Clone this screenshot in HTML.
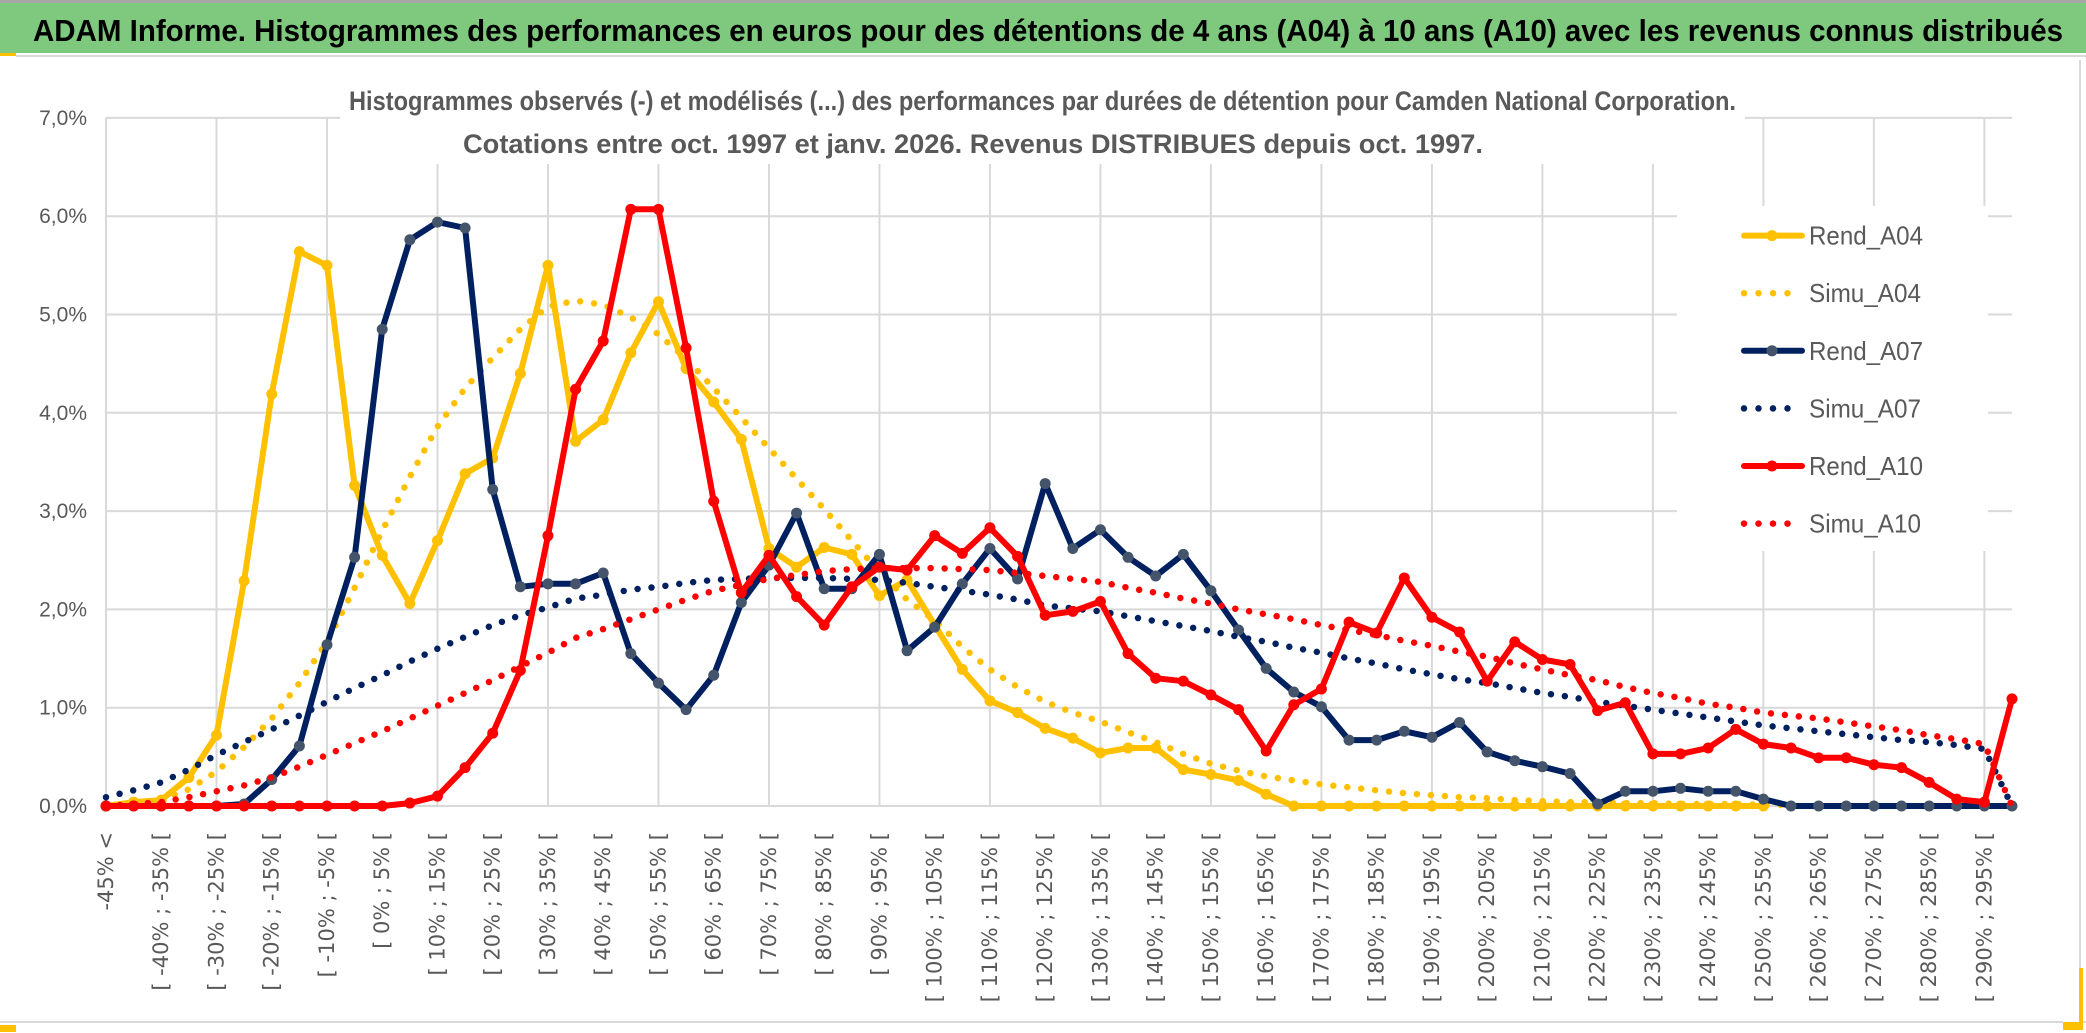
<!DOCTYPE html>
<html><head><meta charset="utf-8"><style>
html,body{margin:0;padding:0;background:#fff;}
svg{display:block;}
text{font-family:"Liberation Sans","DejaVu Sans",sans-serif;}
</style></head><body>
<svg id="chart" width="2086" height="1033" viewBox="0 0 2086 1033" xmlns="http://www.w3.org/2000/svg">
<rect x="0" y="0" width="2086" height="1033" fill="#fff"/>
<rect x="0" y="0" width="2086" height="3" fill="#a6a6a6"/>
<rect x="0" y="3" width="2086" height="50" fill="#7fc97f"/>
<rect x="0" y="53" width="16" height="3" fill="#ffc000"/>
<rect x="16" y="55" width="2070" height="2" fill="#d9d9d9"/>
<text x="33" y="41" font-size="31" font-weight="bold" fill="#000" textLength="2030" lengthAdjust="spacingAndGlyphs">ADAM Informe. Histogrammes des performances en euros pour des détentions de 4 ans (A04) à 10 ans (A10) avec les revenus connus distribués</text>
<rect x="0" y="1021" width="2086" height="2" fill="#d9d9d9"/>
<rect x="0" y="1025" width="16" height="7" fill="#ffc000"/>
<rect x="2079" y="60" width="2" height="965" fill="#d9d9d9"/>
<rect x="2063" y="968" width="20" height="62" fill="#ffc000"/>
<rect x="2063" y="968" width="16" height="54" fill="#fff"/>
<g id="grid"></g>
<rect x="340" y="72" width="1405" height="92" fill="#fff"/>
<text x="349" y="110" font-size="27" font-weight="bold" fill="#595959" textLength="1387" lengthAdjust="spacingAndGlyphs">Histogrammes observés (-) et modélisés (...) des performances par durées de détention pour Camden National Corporation.</text>
<text x="463" y="153" font-size="27" font-weight="bold" fill="#595959" textLength="1020" lengthAdjust="spacingAndGlyphs">Cotations entre oct. 1997 et janv. 2026. Revenus DISTRIBUES depuis oct. 1997.</text>
<g id="yaxis"></g>
<g id="xaxis"></g>
<rect x="1677" y="206" width="311" height="345" fill="#fff"/>
<g id="series"></g>
<g id="legend"></g>
</svg>
<script>
const categories = [];
categories.push("-45% <");
for (let v = -45; v <= 295; v += 5) { categories.push("[ " + v + "% ; " + (v + 5) + "% ["); }
const yTicks = [0,1,2,3,4,5,6,7];
const yTickLabels = ["0,0%","1,0%","2,0%","3,0%","4,0%","5,0%","6,0%","7,0%"];
const seriesNames = ["Rend_A04","Simu_A04","Rend_A07","Simu_A07","Rend_A10","Simu_A10"];
const rendA04 = [0,0.04,0.06,0.29,0.72,2.29,4.19,5.64,5.50,3.26,2.55,2.06,2.70,3.38,3.54,4.40,5.50,3.71,3.93,4.61,5.13,4.45,4.11,3.73,2.62,2.43,2.63,2.56,2.14,2.30,1.84,1.39,1.07,0.95,0.79,0.69,0.54,0.59,0.59,0.37,0.32,0.26,0.12,0,0,0,0,0,0,0,0,0,0,0,0,0,0,0,0,0,0,null,null,null,null,null,null,null,null,null];
const simuA04 = [0,0.02,0.06,0.17,0.35,0.60,0.89,1.25,1.67,2.22,2.80,3.35,3.86,4.25,4.56,4.85,5.08,5.14,5.10,4.97,4.80,4.55,4.25,3.95,3.64,3.33,3.02,2.70,2.38,2.10,1.89,1.62,1.39,1.21,1.06,0.95,0.86,0.75,0.65,0.53,0.43,0.36,0.30,0.26,0.22,0.19,0.16,0.13,0.11,0.09,0.08,0.06,0.05,0.04,0.04,0.03,0.03,0.02,0.02,0.02,0.01,0.01,null,null,null,null,null,null,null,null];
const rendA07 = [0,0,0,0,0,0.02,0.27,0.61,1.64,2.53,4.85,5.76,5.94,5.88,3.22,2.23,2.26,2.26,2.37,1.55,1.25,0.98,1.33,2.07,2.45,2.98,2.21,2.21,2.56,1.58,1.82,2.26,2.62,2.31,3.28,2.62,2.81,2.53,2.34,2.56,2.19,1.79,1.40,1.16,1.01,0.67,0.67,0.76,0.70,0.85,0.55,0.46,0.40,0.33,0.02,0.15,0.15,0.18,0.15,0.15,0.07,0,0,0,0,0,0,0,0,0];
const simuA07 = [0.09,0.16,0.24,0.37,0.52,0.65,0.78,0.92,1.06,1.20,1.33,1.47,1.60,1.72,1.84,1.94,2.02,2.11,2.15,2.20,2.23,2.27,2.30,2.31,2.32,2.32,2.32,2.31,2.30,2.27,2.23,2.19,2.15,2.10,2.04,2.01,1.98,1.93,1.88,1.83,1.78,1.72,1.67,1.61,1.56,1.50,1.45,1.39,1.34,1.29,1.25,1.20,1.15,1.11,1.06,1.02,0.98,0.94,0.90,0.86,0.82,0.79,0.76,0.73,0.70,0.67,0.65,0.62,0.58,0];
const rendA10 = [0,0,0,0,0,0,0,0,0,0,0,0.03,0.10,0.39,0.74,1.38,2.75,4.24,4.73,6.07,6.07,4.66,3.10,2.17,2.55,2.13,1.84,2.23,2.43,2.40,2.75,2.57,2.83,2.54,1.94,1.98,2.08,1.55,1.30,1.27,1.13,0.98,0.56,1.03,1.19,1.87,1.76,2.32,1.92,1.77,1.27,1.67,1.49,1.44,0.97,1.05,0.53,0.53,0.59,0.78,0.63,0.59,0.49,0.49,0.42,0.39,0.24,0.07,0.04,1.09];
const simuA10 = [0,0.02,0.04,0.09,0.15,0.21,0.29,0.40,0.52,0.64,0.76,0.89,1.02,1.15,1.28,1.42,1.56,1.71,1.80,1.90,2.00,2.10,2.19,2.25,2.31,2.35,2.39,2.41,2.42,2.42,2.42,2.41,2.40,2.37,2.34,2.31,2.28,2.22,2.17,2.11,2.06,2.00,1.95,1.90,1.84,1.79,1.74,1.68,1.63,1.57,1.52,1.45,1.39,1.33,1.28,1.21,1.15,1.10,1.04,1.00,0.95,0.92,0.89,0.85,0.81,0.77,0.72,0.68,0.63,0];

const NS = "http://www.w3.org/2000/svg";
const X0 = 106, X1 = 2012, Y0 = 806, PER = 98.3;
function xScale(i){ return X0 + i * (X1 - X0) / (categories.length - 1); }
function yScale(v){ return Y0 - v * PER; }
function mk(tag, attrs, parent){ const e = document.createElementNS(NS, tag); for (const k in attrs) e.setAttribute(k, attrs[k]); parent.appendChild(e); return e; }

const grid = document.getElementById("grid");
yTicks.forEach(function(t){
  const l = mk("line", {x1:X0, x2:X1, y1:yScale(t), y2:yScale(t), stroke:"#d9d9d9", "stroke-width":2}, grid);
  
  
});
categories.forEach(function(c, i){
  if (i % 4 === 0) {
    const l = mk("line", {x1:xScale(i), x2:xScale(i), y1:yScale(7), y2:Y0, stroke:"#d9d9d9", "stroke-width":2}, grid);
    
    
  }
});

const yaxis = document.getElementById("yaxis");
yTicks.forEach(function(t, k){
  const tx = mk("text", {x:87, y:yScale(t)+7, "font-size":21, fill:"#595959", "text-anchor":"end"}, yaxis);
  tx.textContent = yTickLabels[k];
  
  
});

const xaxis = document.getElementById("xaxis");
categories.forEach(function(c, i){
  if (i % 2 !== 0) return;
  const x = xScale(i) + 7, y = 832;
  const tx = mk("text", {x:x, y:y, "font-size":21, fill:"#595959", "text-anchor":"end", transform:"rotate(-90 "+x+" "+y+")", style:"font-family:'DejaVu Sans',sans-serif"}, xaxis);
  tx.textContent = c;
  
  
});

const seriesData = [rendA04, simuA04, rendA07, simuA07, rendA10, simuA10];
const colors = ["#ffc000","#ffc000","#002060","#002060","#ff0000","#ff0000"];
const markerColors = ["#ffc000","#ffc000","#44546a","#44546a","#ff0000","#ff0000"];
const sg = document.getElementById("series");
seriesData.forEach(function(data, s){
  const dotted = s % 2 === 1;
  let d = "", started = false;
  data.forEach(function(v, i){
    if (v === null) { started = false; return; }
    d += (started ? "L" : "M") + xScale(i).toFixed(1) + "," + yScale(v).toFixed(1);
    started = true;
  });
  const p = mk("path", {d:d, fill:"none", stroke:colors[s], "stroke-width": dotted ? 6.5 : 6, "stroke-linejoin":"round", "stroke-linecap":"round"}, sg);
  if (dotted) p.setAttribute("stroke-dasharray", "0 14");
  
  
  if (!dotted) {
    data.forEach(function(v, i){
      if (v === null) return;
      const c = mk("circle", {cx:xScale(i), cy:yScale(v), r:5.5, fill:markerColors[s]}, sg);
      
      
    });
  }
});

const lg = document.getElementById("legend");
seriesNames.forEach(function(n, s){
  const y = 235.6 + s * 57.6;
  const dotted = s % 2 === 1;
  const g = mk("g", {}, lg);
  
  
  const l = mk("line", {x1:1744, x2:1802, y1:y, y2:y, stroke:colors[s], "stroke-width": dotted ? 6.5 : 6, "stroke-linecap":"round"}, g);
  if (dotted) l.setAttribute("stroke-dasharray", "0 14.5");
  
  
  if (!dotted) {
    const c = mk("circle", {cx:1772, cy:y, r:5.5, fill:markerColors[s]}, g);
    
    
  }
  const t = mk("text", {x:1809, y:y+9, "font-size":26, fill:"#595959", textLength:(n.indexOf("Rend")===0?114:112), lengthAdjust:"spacingAndGlyphs"}, g);
  t.textContent = n;
  
  
});
</script>
</body></html>
